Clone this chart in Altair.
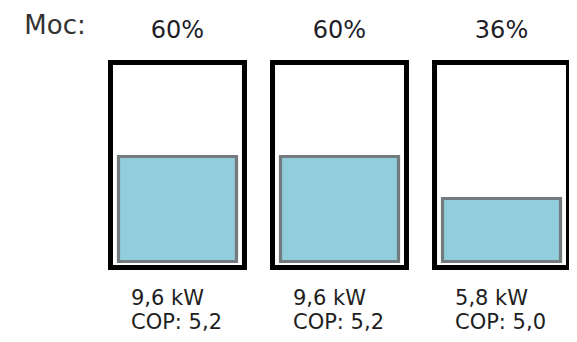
import altair as alt
import pandas as pd

units = ["1", "2", "3"]
moc = [60, 60, 36]
power = ["9,6 kW", "9,6 kW", "5,8 kW"]
cop = ["COP: 5,2", "COP: 5,2", "COP: 5,0"]

df = pd.DataFrame({"unit": units, "moc": moc, "power": power, "cop": cop})

FONT = "DejaVu Sans"
xscale = alt.Scale(domain=units, range=[102.5, 560.5], paddingInner=0.173, paddingOuter=0)
yscale = alt.Scale(domain=[0, 100], range=[253.5, 78.5], nice=False, zero=True)

x_band = alt.X("unit:N", scale=xscale, axis=None)
x_left = alt.X("unit:N", scale=xscale, axis=None, bandPosition=0)

base = alt.Chart(df)

box = base.mark_rect(fill="white", stroke="black", strokeWidth=5).encode(
    x=x_band, y=alt.value(54.5), y2=alt.value(259.5)
)

fill = base.mark_bar(size=118, color="#92CDDC", stroke="#737b7e", strokeWidth=3.2).encode(
    x=x_band, y=alt.Y("moc:Q", scale=yscale, axis=None)
)

top = base.transform_calculate(lbl="datum.moc + '%'").mark_text(
    font=FONT, fontSize=24, color="#1e1e28", baseline="middle"
).encode(x=x_band, y=alt.value(23), text="lbl:N")

line1 = base.mark_text(font=FONT, fontSize=21, color="#1e1e1e", align="left", baseline="middle", dx=20.5).encode(
    x=x_left, y=alt.value(291), text="power:N"
)
line2 = base.mark_text(font=FONT, fontSize=21, color="#1e1e1e", align="left", baseline="middle", dx=20.5).encode(
    x=x_left, y=alt.value(315), text="cop:N"
)

moc_title = alt.Chart(pd.DataFrame({"t": ["Moc:"]})).mark_text(
    font=FONT, fontSize=26, color="#333333", align="center", baseline="middle"
).encode(x=alt.value(47), y=alt.value(18), text="t:N")

chart = alt.layer(box, fill, top, line1, line2, moc_title).properties(
    width=561, height=328, autosize=alt.AutoSizeParams(type="none"), padding=0
).configure_view(stroke=None)

chart.save("out.html", embed_options={"renderer": "svg", "actions": False})
